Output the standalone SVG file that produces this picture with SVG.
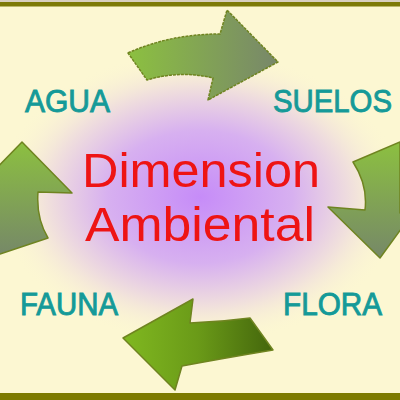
<svg xmlns="http://www.w3.org/2000/svg" width="400" height="400" viewBox="0 0 400 400">
<defs>
<radialGradient id="glow" cx="200" cy="197" r="205" gradientUnits="userSpaceOnUse" gradientTransform="translate(200 197) scale(1 0.72) translate(-200 -197)">
<stop offset="0" stop-color="#c68cf8"/>
<stop offset="0.45" stop-color="#d7b0f0"/>
<stop offset="0.75" stop-color="#f1e1dc"/>
<stop offset="1" stop-color="#fcf7d2" stop-opacity="0"/>
</radialGradient>
<linearGradient id="gTop" x1="0" y1="0" x2="1" y2="0">
<stop offset="0" stop-color="#8cc040"/>
<stop offset="1" stop-color="#78876a"/>
</linearGradient>
<linearGradient id="gBot" x1="0" y1="0" x2="1" y2="0">
<stop offset="0" stop-color="#80b820"/>
<stop offset="0.5" stop-color="#6a9a18"/>
<stop offset="1" stop-color="#44660c"/>
</linearGradient>
<linearGradient id="gSide" x1="0" y1="0" x2="0" y2="1">
<stop offset="0" stop-color="#8cc040"/>
<stop offset="1" stop-color="#768868"/>
</linearGradient>
<style>
.lbl{font-family:"Liberation Sans",Arial,sans-serif;font-size:31px;fill:#159a98;stroke:#159a98;stroke-width:0.9;}
.title{font-family:"Liberation Sans",Arial,sans-serif;font-size:48px;fill:#ee1414;text-anchor:middle;}
.arrow{stroke:#6f8420;stroke-width:1.5;stroke-linejoin:round;}
</style>
</defs>
<rect x="0" y="0" width="400" height="400" fill="#fcf7d2"/>
<rect x="0" y="0" width="400" height="400" fill="url(#glow)"/>
<rect x="0" y="0" width="400" height="2" fill="#d8cfc0"/>
<rect x="0" y="2" width="400" height="4.5" fill="#7d7a08"/>
<rect x="0" y="393" width="400" height="7" fill="#7d7a00"/>
<g id="connectors">
<path id="arrow-top" class="arrow" fill="url(#gTop)" stroke="#4c5a30" stroke-dasharray="3 1" d="M128 53 Q170 34 220 34 L227 10 L278 62 L208 100 L213 78 Q180 70 147 80 Z"/>
<path id="arrow-right" class="arrow" fill="url(#gSide)" d="M353 162 L400 142 L400 213 L412 214 L380 258 L328 207 L365 210 Q368 185 353 162 Z"/>
<path id="arrow-bottom" class="arrow" fill="url(#gBot)" d="M123 338 L193 299 L190 323 Q220 322 250 318 L273 350 Q225 358 182 366 L175 390 Z"/>
<path id="arrow-left" class="arrow" fill="url(#gSide)" d="M22 142 L72 193 L38 192 Q36 218 48 238 L0 254 L-5 255 L-5 180 L-15 180 Z"/>
</g>
<g id="node-agua"><text class="lbl" x="25" y="112" textLength="85" lengthAdjust="spacingAndGlyphs">AGUA</text></g>
<g id="node-suelos"><text class="lbl" x="273" y="112" textLength="119" lengthAdjust="spacingAndGlyphs">SUELOS</text></g>
<g id="node-fauna"><text class="lbl" x="20" y="315" textLength="98" lengthAdjust="spacingAndGlyphs">FAUNA</text></g>
<g id="node-flora"><text class="lbl" x="283" y="315" textLength="99" lengthAdjust="spacingAndGlyphs">FLORA</text></g>
<g id="node-center">
<text class="title" x="201" y="187" textLength="238" lengthAdjust="spacingAndGlyphs">Dimension</text>
<text class="title" x="200" y="241" textLength="230" lengthAdjust="spacingAndGlyphs">Ambiental</text>
</g>
</svg>
